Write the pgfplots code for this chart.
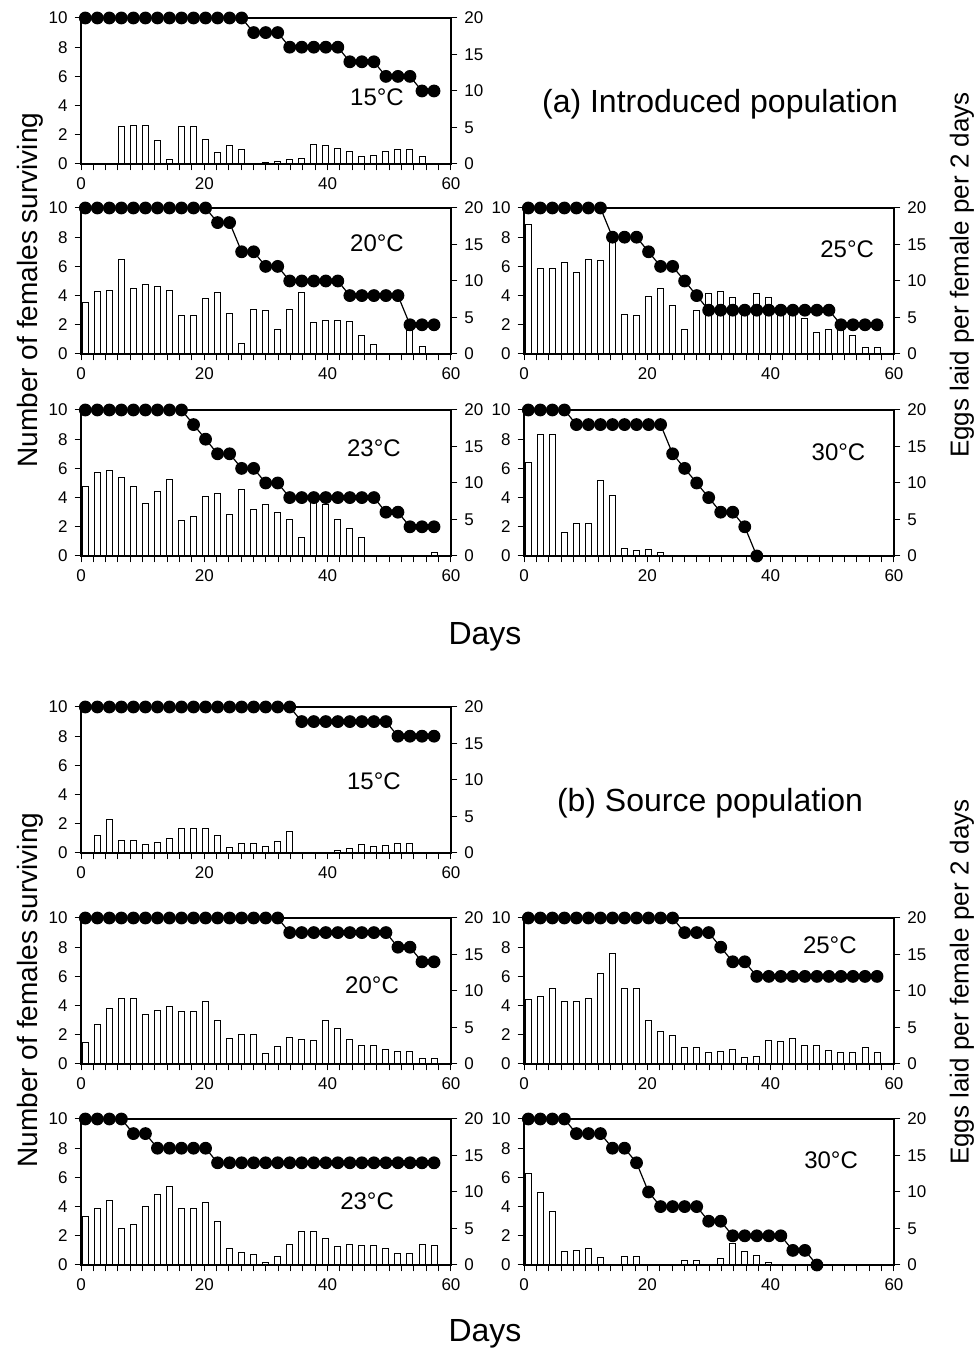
\documentclass[border=0pt]{standalone}
\usepackage{fontspec}
\setmainfont{Liberation Sans}
\usepackage{pgfplots}
\usepackage{pgfplotstable}
\pgfplotsset{compat=1.18}

% columns: x = day, s = females surviving, e = eggs per female per 2 days
% (a) introduced population
\pgfplotstableread{
x s e
0.7 10 0
2.65 10 0
4.6 10 0
6.55 10 5.1
8.5 10 5.3
10.45 10 5.3
12.4 10 3.2
14.35 10 0.6
16.3 10 5.1
18.25 10 5.1
20.2 10 3.3
22.15 10 1.6
24.1 10 2.5
26.05 10 2.0
28 9 0
29.95 9 0.2
31.9 9 0.3
33.85 8 0.6
35.8 8 0.8
37.75 8 2.7
39.7 8 2.5
41.65 8 2.1
43.6 7 1.7
45.55 7 1.0
47.5 7 1.2
49.45 6 1.7
51.4 6 2.0
53.35 6 2.0
55.3 5 1.0
57.25 5 0
}\tAfifteen

\pgfplotstableread{
x s e
0.7 10 7.1
2.65 10 8.6
4.6 10 8.7
6.55 10 13.0
8.5 10 9.0
10.45 10 9.5
12.4 10 9.3
14.35 10 8.7
16.3 10 5.3
18.25 10 5.3
20.2 10 7.6
22.15 9 8.4
24.1 9 5.6
26.05 7 1.5
28 7 6.1
29.95 6 5.9
31.9 6 3.4
33.85 5 6.1
35.8 5 8.4
37.75 5 4.3
39.7 5 4.6
41.65 5 4.6
43.6 4 4.5
45.55 4 2.5
47.5 4 1.3
49.45 4 0
51.4 4 0
53.35 2 3.2
55.3 2 1.0
57.25 2 0
}\tAtwenty

\pgfplotstableread{
x s e
0.7 10 17.8
2.65 10 11.7
4.6 10 11.7
6.55 10 12.5
8.5 10 11.2
10.45 10 12.9
12.4 10 12.8
14.35 8 15.8
16.3 8 5.4
18.25 8 5.3
20.2 7 7.9
22.15 6 9.0
24.1 6 6.7
26.05 5 3.4
28 4 6.0
29.95 3 8.3
31.9 3 8.6
33.85 3 7.7
35.8 3 5.7
37.75 3 8.3
39.7 3 7.7
41.65 3 5.7
43.6 3 5.5
45.55 3 4.9
47.5 3 3.0
49.45 3 3.3
51.4 2 3.8
53.35 2 2.5
55.3 2 0.9
57.25 2 0.9
}\tAtwentyfive

\pgfplotstableread{
x s e
0.7 10 9.5
2.65 10 11.5
4.6 10 11.7
6.55 10 10.7
8.5 10 9.5
10.45 10 7.2
12.4 10 8.8
14.35 10 10.5
16.3 10 4.8
18.25 9 5.4
20.2 8 8.1
22.15 7 8.5
24.1 7 5.7
26.05 6 9.1
28 6 6.4
29.95 5 7.0
31.9 5 6.0
33.85 4 5.0
35.8 4 2.5
37.75 4 8.4
39.7 4 7.0
41.65 4 5.0
43.6 4 3.8
45.55 4 2.5
47.5 4 0
49.45 3 0
51.4 3 0
53.35 2 0
55.3 2 0
57.25 2 0.5
}\tAtwentythree

\pgfplotstableread{
x s e
0.7 10 12.8
2.65 10 16.6
4.6 10 16.7
6.55 10 3.2
8.5 9 4.4
10.45 9 4.4
12.4 9 10.3
14.35 9 8.3
16.3 9 1.0
18.25 9 0.8
20.2 9 0.9
22.15 9 0.5
24.1 7 0
26.05 6 0
28 5 0
29.95 4 0
31.9 3 0
33.85 3 0
35.8 2 0
37.75 0 0
}\tAthirty

% (b) source population
\pgfplotstableread{
x s e
0.7 10 0
2.65 10 2.4
4.6 10 4.6
6.55 10 1.7
8.5 10 1.7
10.45 10 1.1
12.4 10 1.4
14.35 10 2.0
16.3 10 3.3
18.25 10 3.3
20.2 10 3.4
22.15 10 2.4
24.1 10 0.8
26.05 10 1.3
28 10 1.3
29.95 10 0.9
31.9 10 1.6
33.85 10 3.0
35.8 9 0
37.75 9 0
39.7 9 0
41.65 9 0.3
43.6 9 0.6
45.55 9 1.1
47.5 9 0.9
49.45 9 1.0
51.4 8 1.3
53.35 8 1.3
55.3 8 0
57.25 8 0
}\tBfifteen

\pgfplotstableread{
x s e
0.7 10 3.0
2.65 10 5.4
4.6 10 7.6
6.55 10 9.0
8.5 10 9.0
10.45 10 6.8
12.4 10 7.3
14.35 10 7.9
16.3 10 7.2
18.25 10 7.2
20.2 10 8.5
22.15 10 6.0
24.1 10 3.5
26.05 10 4.0
28 10 4.0
29.95 10 1.5
31.9 10 2.4
33.85 9 3.6
35.8 9 3.3
37.75 9 3.2
39.7 9 6.0
41.65 9 4.8
43.6 9 3.4
45.55 9 2.6
47.5 9 2.5
49.45 9 2.0
51.4 8 1.7
53.35 8 1.7
55.3 7 0.7
57.25 7 0.7
}\tBtwenty

\pgfplotstableread{
x s e
0.7 10 8.8
2.65 10 9.3
4.6 10 10.3
6.55 10 8.6
8.5 10 8.6
10.45 10 9.0
12.4 10 12.4
14.35 10 15.2
16.3 10 10.3
18.25 10 10.3
20.2 10 6.0
22.15 10 4.5
24.1 10 3.9
26.05 9 2.2
28 9 2.2
29.95 9 1.6
31.9 8 1.7
33.85 7 2.0
35.8 7 0.9
37.75 6 1.05
39.7 6 3.2
41.65 6 3.1
43.6 6 3.5
45.55 6 2.5
47.5 6 2.5
49.45 6 1.8
51.4 6 1.6
53.35 6 1.6
55.3 6 2.2
57.25 6 1.55
}\tBtwentyfive

\pgfplotstableread{
x s e
0.7 10 6.7
2.65 10 7.8
4.6 10 8.8
6.55 10 5.0
8.5 9 5.6
10.45 9 8.0
12.4 8 9.7
14.35 8 10.8
16.3 8 7.7
18.25 8 7.7
20.2 8 8.5
22.15 7 5.9
24.1 7 2.3
26.05 7 1.7
28 7 1.5
29.95 7 0.4
31.9 7 1.2
33.85 7 2.8
35.8 7 4.6
37.75 7 4.6
39.7 7 3.6
41.65 7 2.6
43.6 7 2.8
45.55 7 2.7
47.5 7 2.7
49.45 7 2.2
51.4 7 1.6
53.35 7 1.6
55.3 7 2.8
57.25 7 2.7
}\tBtwentythree

\pgfplotstableread{
x s e
0.7 10 12.6
2.65 10 9.9
4.6 10 7.3
6.55 10 1.9
8.5 9 2.0
10.45 9 2.3
12.4 9 1.0
14.35 8 0
16.3 8 1.15
18.25 7 1.15
20.2 5 0
22.15 4 0
24.1 4 0
26.05 4 0.65
28 4 0.65
29.95 3 0
31.9 3 0.9
33.85 2 2.9
35.8 2 1.9
37.75 2 1.3
39.7 2 0.3
41.65 2 0
43.6 1 0
45.55 1 0
47.5 0 0
}\tBthirty

\pgfplotsset{
  panel/.style={
    at={#1}, anchor=south west,
    width=185pt, height=73pt, scale only axis,
    xmin=0, xmax=60, xtick={0,20,40,60}, minor x tick num=9,
    tick align=outside, major tick length=3.2pt, minor tick length=3.2pt,
    every tick/.style={black, line width=0.5pt},
    axis line style={line width=0.6pt},
    tick label style={font=\fontsize{8.5}{10}\selectfont},
    /pgf/number format/assume math mode=true,
  },
}

% #1 position, #2 table, #3 temperature, #4 where the temperature goes
\newcommand{\panel}[4]{%
  \begin{axis}[panel={#1}, ymin=0, ymax=20, ytick={0,5,...,20},
      axis y line*=right, hide x axis, ybar=0pt, bar width=3pt]
    \addplot[draw=black, fill=white, line width=0.5pt] table[x=x, y=e] {#2};
  \end{axis}
  \begin{axis}[panel={#1}, ymin=0, ymax=10, ytick={0,2,...,10},
      xtick pos=bottom, ytick pos=left, clip=false]
    \addplot[black, line width=0.6pt, mark=*, mark size=2.9pt,
      mark options={fill=black}] table[x=x, y=s] {#2};
    \node[font=\fontsize{12}{14}\selectfont] at (axis cs:#4) {#3};
  \end{axis}}

\begin{document}
\begin{tikzpicture}
\useasboundingbox (0,0) rectangle (489pt,677pt);

% (a)
\panel{(40.5pt,595pt)}{\tAfifteen}{15°C}{48,4.6}
\panel{(40.5pt,500pt)}{\tAtwenty}{20°C}{48,7.6}
\panel{(262pt,500pt)}{\tAtwentyfive}{25°C}{52.4,7.2}
\panel{(40.5pt,399pt)}{\tAtwentythree}{23°C}{47.5,7.4}
\panel{(262pt,399pt)}{\tAthirty}{30°C}{51,7.1}

% (b)
\panel{(40.5pt,250.5pt)}{\tBfifteen}{15°C}{47.5,4.9}
\panel{(40.5pt,145pt)}{\tBtwenty}{20°C}{47.2,5.4}
\panel{(262pt,145pt)}{\tBtwentyfive}{25°C}{49.6,8.1}
\panel{(40.5pt,44.5pt)}{\tBtwentythree}{23°C}{46.4,4.4}
\panel{(262pt,44.5pt)}{\tBthirty}{30°C}{49.8,7.2}

\node[rotate=90, font=\fontsize{14}{16}\selectfont] at (15pt,532pt) {Number of females surviving};
\node[rotate=90, font=\fontsize{14}{16}\selectfont] at (15pt,182pt) {Number of females surviving};
\node[rotate=90, font=\fontsize{13}{15}\selectfont] at (481pt,539.5pt) {Eggs laid per female per 2 days};
\node[rotate=90, font=\fontsize{13}{15}\selectfont] at (481pt,186pt) {Eggs laid per female per 2 days};
\node[font=\fontsize{16}{18}\selectfont] at (242.5pt,358.5pt) {Days};
\node[font=\fontsize{16}{18}\selectfont] at (242.5pt,10pt) {Days};
\node[font=\fontsize{16}{18}\selectfont] at (360pt,625pt) {(a) Introduced population};
\node[font=\fontsize{16}{18}\selectfont] at (355pt,275.5pt) {(b) Source population};
\end{tikzpicture}
\end{document}
